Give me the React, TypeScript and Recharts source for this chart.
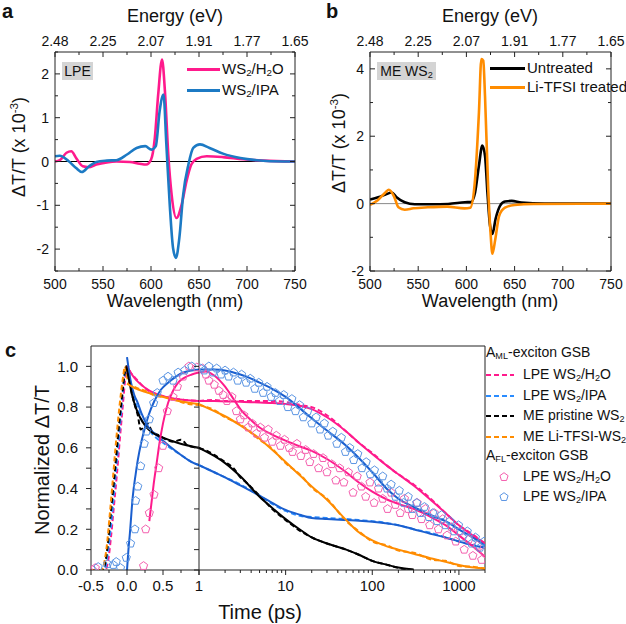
import React from 'react'
import { LineChart, Line, XAxis, YAxis, ReferenceLine } from 'recharts'

const FONT = '"Liberation Sans", Arial, sans-serif'

const PINK = '#ff1a8c'
const BLUE_A = '#1c7ac4'
const BLUE = '#1a5fcf'
const BLUE_DASH = '#2a8cff'
const ORANGE = '#ff8c00'
const BLACK = '#000000'
const PINK_PT = '#f45fae'
const BLUE_PT = '#5b95e3'

// ---- panel a: LPE WS2 spectra (wavelength nm, dT/T x 1e-3)
const LPE_H2O: [number, number][] = [
  [500, 0], [505, 0.03], [512, 0.2], [517, 0.235], [522, 0.08], [529, -0.11], [535, -0.13],
  [543, -0.07], [554, -0.02], [564, 0], [578, -0.01], [588, -0.05], [595, -0.07], [600, 0.04],
  [604, 0.54], [607.5, 1.53], [611.5, 2.33], [614.5, 1.61], [618, 0.16], [621.5, -0.76],
  [626.5, -1.29], [632, -0.98], [637, -0.45], [642, -0.07], [647.5, 0.06], [658, 0.12],
  [675, 0.1], [696, 0.05], [717, 0.02], [750, 0],
]
const LPE_IPA: [number, number][] = [
  [500, 0.12], [505, 0.13], [514, 0.01], [522, -0.15], [528, -0.24], [535, -0.12], [543, -0.01],
  [554, 0.02], [564, 0.03], [575, 0.16], [585, 0.31], [594, 0.35], [600.5, 0.27], [605, 0.35],
  [609, 1.15], [613, 1.53], [616, 0.39], [619.5, -0.98], [623, -1.98], [626, -2.2],
  [629.5, -1.75], [633.5, -0.76], [639, -0.07], [644, 0.31], [651, 0.39], [661, 0.31],
  [675, 0.18], [693, 0.08], [710, 0.03], [738, 0], [750, 0],
]

// ---- panel b: ME WS2 spectra
const ME_UNTREATED: [number, number][] = [
  [500, 0.12], [508.5, 0.19], [515.5, 0.26], [522.5, 0.33], [527.5, 0.19], [536, 0.04],
  [546.5, -0.02], [564, -0.02], [581, -0.01], [598.5, 0.04], [605, 0.05], [609, 0.33],
  [613, 1.13], [616.5, 1.72], [619.3, 1.42], [622, 0.24], [624.5, -0.65], [627, -0.9],
  [630.3, -0.45], [635, -0.06], [640, 0.06], [647, 0.08], [657, 0.03], [681, 0], [750, 0],
]
const ME_LITFSI: [number, number][] = [
  [500, -0.04], [508, 0.1], [516, 0.33], [519.5, 0.41], [525, 0.21], [529.5, -0.11],
  [536, -0.18], [545, -0.14], [560, -0.11], [580, -0.09], [598, -0.14], [604, -0.12],
  [609, 0.73], [613, 2.7], [615.5, 4.29], [617.5, 4.24], [619.3, 3.2], [622.5, 0.53],
  [625, -0.85], [627, -1.49], [630, -1.05], [634, -0.36], [640, -0.12], [650, -0.04],
  [670, -0.01], [750, 0],
]

const WAVE_TICKS = [500, 525, 550, 575, 600, 625, 650, 675, 700, 725, 750]
const WAVE_LABELS = ['500', '550', '600', '650', '700', '750']
const ENERGY_LABELS = ['2.48', '2.25', '2.07', '1.91', '1.77', '1.65']
const A_Y_TICKS = [-2.5, -2, -1.5, -1, -0.5, 0, 0.5, 1, 1.5, 2, 2.5]
const B_Y_TICKS = [-2, -1, 0, 1, 2, 3, 4]

// ---- panel c: kinetics (time ps, normalized dT/T)
const ML_H2O_DATA: [number, number][] = [
  [-0.5, 0], [-0.3, 0], [-0.26, 0.05], [-0.22, 0.17], [-0.18, 0.32], [-0.14, 0.47], [-0.1, 0.64],
  [-0.06, 0.8], [-0.03, 0.92], [-0.01, 0.98], [0.01, 1.0], [0.05, 0.97], [0.1, 0.95], [0.2, 0.91],
  [0.3, 0.88], [0.45, 0.86], [0.6, 0.845], [0.8, 0.835], [1, 0.83], [1.5, 0.835], [2, 0.83],
  [3, 0.83], [5, 0.83], [7, 0.83], [10, 0.825], [15, 0.81], [20, 0.8], [30, 0.76], [50, 0.68],
  [70, 0.625], [100, 0.575], [150, 0.51], [200, 0.47], [300, 0.42], [500, 0.34], [700, 0.28],
  [1000, 0.22], [1500, 0.17], [2000, 0.13],
]
const ML_H2O_FIT: [number, number][] = [
  [0, 1.0], [0.05, 0.97], [0.1, 0.945], [0.15, 0.925], [0.25, 0.895], [0.4, 0.865], [0.6, 0.845],
  [0.8, 0.835], [1, 0.83], [1.5, 0.83], [2, 0.828], [3, 0.826], [5, 0.823], [7, 0.82], [10, 0.815],
  [15, 0.805], [20, 0.79], [30, 0.75], [50, 0.68], [70, 0.625], [100, 0.57], [150, 0.51],
  [200, 0.47], [300, 0.415], [500, 0.335], [700, 0.28], [1000, 0.22], [1500, 0.165], [2000, 0.13],
]
const ML_IPA_DATA: [number, number][] = [
  [-0.5, 0], [-0.32, 0], [-0.28, 0.05], [-0.24, 0.16], [-0.2, 0.3], [-0.16, 0.46], [-0.12, 0.62],
  [-0.08, 0.78], [-0.05, 0.9], [-0.02, 0.98], [0, 1.0], [0.05, 0.92], [0.1, 0.84], [0.15, 0.79],
  [0.2, 0.74], [0.3, 0.69], [0.4, 0.65], [0.5, 0.625], [0.6, 0.6], [0.75, 0.565], [0.9, 0.53],
  [1, 0.515], [1.5, 0.48], [2, 0.455], [3, 0.42], [5, 0.365], [7, 0.325], [10, 0.29], [15, 0.265],
  [20, 0.26], [30, 0.255], [50, 0.25], [70, 0.245], [100, 0.24], [150, 0.23], [200, 0.22],
  [300, 0.2], [500, 0.18], [700, 0.16], [1000, 0.14], [1500, 0.12], [2000, 0.11],
]
const ML_IPA_FIT: [number, number][] = [
  [0, 1.045], [0.05, 0.93], [0.1, 0.86], [0.15, 0.82], [0.2, 0.77], [0.3, 0.7], [0.4, 0.665],
  [0.5, 0.635], [0.6, 0.605], [0.75, 0.565], [0.9, 0.53], [1, 0.515], [1.5, 0.48], [2, 0.455],
  [3, 0.415], [5, 0.365], [7, 0.33], [10, 0.295], [15, 0.27], [20, 0.255], [30, 0.25], [50, 0.245],
  [70, 0.242], [100, 0.237], [150, 0.228], [200, 0.22], [300, 0.2], [500, 0.175], [700, 0.16],
  [1000, 0.14], [1500, 0.12], [2000, 0.11],
]
const ME_PRISTINE_DATA: [number, number][] = [
  [-0.5, 0], [-0.33, 0], [-0.3, 0.04], [-0.26, 0.15], [-0.22, 0.3], [-0.18, 0.44], [-0.14, 0.6],
  [-0.1, 0.75], [-0.06, 0.88], [-0.03, 0.97], [-0.01, 1.0], [0.02, 0.95], [0.06, 0.88], [0.1, 0.82],
  [0.15, 0.76], [0.19, 0.69], [0.23, 0.7], [0.28, 0.72], [0.35, 0.68], [0.45, 0.66], [0.55, 0.64],
  [0.65, 0.63], [0.75, 0.64], [0.85, 0.61], [1, 0.6], [1.3, 0.58], [1.5, 0.565], [2, 0.53],
  [2.5, 0.5], [3, 0.455], [3.5, 0.43], [5, 0.365], [7, 0.3], [10, 0.245], [15, 0.19], [20, 0.16],
  [30, 0.13], [50, 0.1], [70, 0.075], [100, 0.045], [150, 0.025], [200, 0.01], [300, 0],
]
const ME_PRISTINE_FIT: [number, number][] = [
  [-0.01, 1.0], [0.03, 0.93], [0.07, 0.86], [0.12, 0.8], [0.18, 0.75], [0.25, 0.71], [0.35, 0.675],
  [0.5, 0.65], [0.7, 0.625], [1, 0.6], [1.5, 0.56], [2, 0.525], [3, 0.46], [5, 0.36], [7, 0.305],
  [10, 0.25], [15, 0.195], [20, 0.16], [30, 0.13], [50, 0.1], [70, 0.075], [100, 0.045],
  [150, 0.025], [200, 0.012], [300, 0.002],
]
const ME_LITFSI_DATA: [number, number][] = [
  [-0.5, 0], [-0.36, 0], [-0.32, 0.03], [-0.28, 0.12], [-0.24, 0.27], [-0.2, 0.43], [-0.16, 0.6],
  [-0.12, 0.75], [-0.08, 0.88], [-0.05, 0.96], [-0.03, 1.0], [-0.01, 0.97], [0.02, 0.92],
  [0.1, 0.9], [0.25, 0.88], [0.4, 0.855], [0.6, 0.845], [0.8, 0.82], [1, 0.81], [1.5, 0.785],
  [2, 0.75], [3, 0.715], [5, 0.64], [7, 0.595], [10, 0.525], [15, 0.465], [20, 0.405], [30, 0.35],
  [50, 0.24], [70, 0.19], [100, 0.14], [150, 0.12], [200, 0.095], [300, 0.085], [500, 0.05],
  [700, 0.045], [1000, 0.02], [1500, 0.015], [2000, 0.005],
]
const ME_LITFSI_FIT: [number, number][] = [
  [0, 0.915], [0.1, 0.895], [0.25, 0.875], [0.4, 0.86], [0.6, 0.84], [0.8, 0.825], [1, 0.815],
  [1.5, 0.78], [2, 0.755], [3, 0.71], [5, 0.645], [7, 0.59], [10, 0.53], [15, 0.46], [20, 0.41],
  [30, 0.345], [50, 0.245], [70, 0.185], [100, 0.145], [150, 0.115], [200, 0.1], [300, 0.08],
  [500, 0.055], [700, 0.04], [1000, 0.025], [1500, 0.012], [2000, 0.008],
]
const FL_H2O_FIT: [number, number][] = [
  [0.31, 0.24], [0.34, 0.33], [0.37, 0.42], [0.41, 0.52], [0.45, 0.62], [0.5, 0.72], [0.57, 0.82],
  [0.64, 0.88], [0.71, 0.92], [0.8, 0.945], [0.9, 0.96], [1, 0.97], [1.2, 0.975], [1.5, 0.955],
  [2, 0.9], [2.5, 0.84], [3, 0.79], [4, 0.735], [5, 0.7], [7, 0.665], [10, 0.635], [15, 0.605],
  [20, 0.585], [30, 0.545], [50, 0.48], [70, 0.43], [100, 0.385], [150, 0.345], [200, 0.325],
  [300, 0.3], [500, 0.255], [700, 0.22], [1000, 0.17], [1500, 0.11], [2000, 0.065],
]
const FL_IPA_FIT: [number, number][] = [
  [0, 0], [0.02, 0.1], [0.04, 0.18], [0.08, 0.36], [0.12, 0.47], [0.15, 0.54], [0.2, 0.63],
  [0.25, 0.7], [0.3, 0.76], [0.38, 0.83], [0.47, 0.885], [0.57, 0.92], [0.66, 0.945],
  [0.75, 0.965], [0.87, 0.978], [1, 0.985], [1.5, 0.985], [2, 0.98], [3, 0.96], [4, 0.94],
  [5, 0.92], [7, 0.89], [10, 0.85], [15, 0.79], [20, 0.745], [30, 0.685], [50, 0.61], [70, 0.55],
  [100, 0.48], [150, 0.395], [200, 0.35], [300, 0.31], [500, 0.265], [700, 0.24], [1000, 0.2],
  [1500, 0.155], [2000, 0.12],
]
const FL_H2O_PTS: [number, number][] = [
  [-0.48, 0], [-0.44, 0.01], [0.23, 0.02], [0.26, 0.2], [0.31, 0.28], [0.375, 0.37], [0.44, 0.5],
  [0.5, 0.61], [0.56, 0.78], [0.64, 0.85], [0.7, 0.9], [0.78, 0.95], [0.86, 1.0], [0.97, 0.995],
  [1.1, 0.99], [1.2, 0.96], [1.3, 0.93], [1.5, 0.91], [1.7, 0.88], [1.9, 0.86], [2.1, 0.83],
  [2.4, 0.85], [2.7, 0.78], [3.0, 0.74], [3.3, 0.76], [3.7, 0.7], [4.1, 0.72], [4.6, 0.67],
  [5.1, 0.7], [5.7, 0.65], [6.3, 0.69], [7, 0.63], [7.8, 0.66], [8.7, 0.61], [9.7, 0.64],
  [11, 0.6], [12, 0.58], [13.5, 0.62], [15, 0.56], [17, 0.59], [19, 0.53], [21, 0.57], [24, 0.5],
  [27, 0.55], [30, 0.48], [34, 0.52], [38, 0.44], [42, 0.5], [47, 0.43], [53, 0.48], [60, 0.38],
  [67, 0.46], [75, 0.41], [84, 0.36], [94, 0.43], [105, 0.33], [118, 0.4], [132, 0.35],
  [150, 0.3], [165, 0.38], [185, 0.32], [210, 0.28], [235, 0.35], [260, 0.3], [290, 0.27],
  [330, 0.33], [370, 0.25], [410, 0.3], [460, 0.22], [520, 0.28], [580, 0.2], [650, 0.25],
  [730, 0.17], [820, 0.21], [920, 0.14], [1030, 0.19], [1150, 0.1], [1300, 0.15], [1450, 0.07],
  [1630, 0.12], [1830, 0.05], [1950, 0.09],
]
const FL_IPA_PTS: [number, number][] = [
  [-0.4, 0.015], [-0.27, 0.03], [-0.19, 0.025], [-0.15, 0.04], [-0.09, 0.01], [-0.01, 0.06],
  [0.05, 0.13], [0.11, 0.2], [0.12, 0.34], [0.15, 0.41], [0.19, 0.51], [0.24, 0.62], [0.27, 0.68],
  [0.31, 0.74], [0.37, 0.82], [0.42, 0.87], [0.5, 0.93], [0.57, 0.95], [0.64, 0.93], [0.71, 0.97],
  [0.8, 0.98], [0.9, 1.0], [1.05, 0.99], [1.15, 0.98], [1.3, 1.0], [1.45, 0.97], [1.6, 0.99],
  [1.8, 0.96], [2.0, 0.98], [2.2, 0.95], [2.5, 0.97], [2.8, 0.93], [3.1, 0.96], [3.5, 0.92],
  [3.9, 0.94], [4.4, 0.89], [4.9, 0.92], [5.5, 0.87], [6.1, 0.9], [6.8, 0.85], [7.6, 0.87],
  [8.5, 0.83], [9.5, 0.86], [10.6, 0.8], [11.8, 0.84], [13, 0.78], [14.5, 0.81], [16, 0.75],
  [18, 0.78], [20, 0.72], [22.5, 0.75], [25, 0.69], [28, 0.72], [31, 0.66], [35, 0.68],
  [39, 0.62], [44, 0.65], [49, 0.58], [55, 0.6], [61, 0.54], [68, 0.57], [76, 0.5], [85, 0.53],
  [95, 0.47], [106, 0.49], [118, 0.43], [132, 0.46], [148, 0.4], [165, 0.42], [185, 0.36],
  [205, 0.39], [230, 0.33], [260, 0.36], [290, 0.3], [325, 0.33], [360, 0.28], [400, 0.31],
  [450, 0.26], [500, 0.28], [560, 0.24], [630, 0.27], [700, 0.22], [790, 0.24], [880, 0.19],
  [990, 0.22], [1100, 0.16], [1250, 0.19], [1400, 0.13], [1550, 0.16], [1750, 0.11], [1950, 0.14],
]

const LIN_TICKS = [-0.5, -0.25, 0, 0.25, 0.5, 0.75, 1]
const LOG_TICKS = [1, 2, 3, 4, 5, 6, 7, 8, 9, 10, 20, 30, 40, 50, 60, 70, 80, 90, 100, 200, 300, 400, 500, 600, 700, 800, 900, 1000, 2000]
const C_Y_TICKS = [0, 0.1, 0.2, 0.3, 0.4, 0.5, 0.6, 0.7, 0.8, 0.9, 1.0]

const pts = (arr: [number, number][]) => arr.map(([x, v]) => ({ x, v }))
const left = (arr: [number, number][]) => pts(arr.filter(([x]) => x <= 1))
const right = (arr: [number, number][]) => pts(arr.filter(([x]) => x >= 1))

type Side = 'bottom' | 'top' | 'left' | 'right'
function makeTick(side: Side, inward: boolean, major: (v: number) => boolean, label: (v: number) => string,
  majorLen = 5, minorLen = 3, gap = 4, fontSize = 14) {
  return (props: any) => {
    const { x, y, payload } = props
    const v = payload.value
    const len = major(v) ? majorLen : minorLen
    const d = { bottom: [0, 1], top: [0, -1], left: [-1, 0], right: [1, 0] }[side]
    const s = inward ? -1 : 1
    const text = label(v)
    let tx = x, ty = y, anchor: any = 'middle'
    if (side === 'bottom') ty = y + gap + fontSize * 0.72
    if (side === 'top') ty = y - gap
    if (side === 'left') { tx = x - gap; ty = y + fontSize * 0.36; anchor = 'end' }
    if (side === 'right') { tx = x + gap; ty = y + fontSize * 0.36; anchor = 'start' }
    return (
      <g>
        <line x1={x} y1={y} x2={x + d[0] * s * len} y2={y + d[1] * s * len} stroke="#222" strokeWidth={1} />
        {text ? <text x={tx} y={ty} textAnchor={anchor} fontSize={fontSize} fontFamily={FONT} fill="#111">{text}</text> : null}
      </g>
    )
  }
}

const Pentagon = ({ cx, cy, color }: { cx: number; cy: number; color: string }) => {
  const r = 4.3
  const p = [0, 1, 2, 3, 4].map((k) => {
    const a = (-90 + 72 * k) * Math.PI / 180
    return `${(cx + r * Math.cos(a)).toFixed(2)},${(cy + r * Math.sin(a)).toFixed(2)}`
  }).join(' ')
  return <polygon points={p} fill="none" stroke={color} strokeWidth={1} />
}
const pentDot = (color: string) => (p: any) => (
  <Pentagon key={`pt-${p.index}`} cx={p.cx} cy={p.cy} color={color} />
)

const txt = (style: React.CSSProperties) => ({ position: 'absolute' as const, fontFamily: FONT, color: '#111', whiteSpace: 'nowrap' as const, ...style })
const Sub = ({ children }: { children: React.ReactNode }) => <sub style={{ fontSize: '0.65em', verticalAlign: '-0.25em' }}>{children}</sub>

const waveMajor = (v: number) => v % 50 === 0
const bottomWave = makeTick('bottom', true, waveMajor, (v) => (waveMajor(v) ? WAVE_LABELS[(v - 500) / 50] : ''), 5, 3, 8, 14)
const topEnergy = makeTick('top', true, waveMajor, (v) => (waveMajor(v) ? ENERGY_LABELS[(v - 500) / 50] : ''), 5, 3, 6, 14)
const noLabelRight = (major: (v: number) => boolean) => makeTick('right', true, major, () => '', 5, 3)

function SpectraPanel({ series, yTicks, yDomain, yMajor, zeroColor, plotLeft, plotRight }: any) {
  const W = 313
  return (
    <LineChart width={W} height={300} margin={{ top: 32, right: W - plotRight - 10, bottom: 9, left: plotLeft - 30 }}>
      <XAxis dataKey="x" type="number" domain={[500, 750]} allowDataOverflow ticks={WAVE_TICKS} interval={0}
        tickSize={0} tickMargin={0} tickLine={false} axisLine={{ stroke: '#222' }} height={20} tick={bottomWave} />
      <XAxis xAxisId="top" orientation="top" dataKey="x" type="number" domain={[500, 750]} allowDataOverflow ticks={WAVE_TICKS}
        interval={0} tickSize={0} tickMargin={0} tickLine={false} axisLine={{ stroke: '#222' }} height={20} tick={topEnergy} />
      <YAxis type="number" domain={yDomain} allowDataOverflow ticks={yTicks} interval={0} width={30}
        tickSize={0} tickMargin={0} tickLine={false} axisLine={{ stroke: '#222' }}
        tick={makeTick('left', true, yMajor, (v) => (yMajor(v) ? String(v) : ''), 5, 3, 6, 14)} />
      <YAxis yAxisId="r" orientation="right" type="number" domain={yDomain} allowDataOverflow ticks={yTicks} interval={0} width={10}
        tickSize={0} tickMargin={0} tickLine={false} axisLine={{ stroke: '#222' }} tick={noLabelRight(yMajor)} />
      <ReferenceLine y={0} stroke={zeroColor} strokeWidth={1} />
      {series.map((s: any) => (
        <Line key={s.name} data={pts(s.data)} dataKey="v" name={s.name} type="monotone" stroke={s.color}
          strokeWidth={2.6} dot={false} activeDot={false} isAnimationActive={false} />
      ))}
    </LineChart>
  )
}

const cYMajor = () => true
const cYLabel = (v: number) => (Math.round(v * 10) % 2 === 0 ? v.toFixed(1) : '')
const linMajor = (v: number) => Math.abs(v * 2 - Math.round(v * 2)) < 1e-9
const logMajor = (v: number) => [1, 10, 100, 1000].includes(v)

const C_LINES = [
  { name: 'ML H2O', data: ML_H2O_DATA, fit: ML_H2O_FIT, color: PINK, dash: PINK },
  { name: 'ML IPA', data: ML_IPA_DATA, fit: ML_IPA_FIT, color: BLUE, dash: BLUE_DASH },
  { name: 'ME pristine', data: ME_PRISTINE_DATA, fit: ME_PRISTINE_FIT, color: BLACK, dash: BLACK },
  { name: 'ME Li-TFSI', data: ME_LITFSI_DATA, fit: ME_LITFSI_FIT, color: ORANGE, dash: ORANGE },
]

function kineticsSeries(cut: (a: [number, number][]) => { x: number; v: number }[]) {
  const out: React.ReactNode[] = []
  out.push(<Line key="pts-h2o" data={cut(FL_H2O_PTS)} dataKey="v" stroke="none" dot={pentDot(PINK_PT)} activeDot={false} isAnimationActive={false} />)
  out.push(<Line key="pts-ipa" data={cut(FL_IPA_PTS)} dataKey="v" stroke="none" dot={pentDot(BLUE_PT)} activeDot={false} isAnimationActive={false} />)
  C_LINES.forEach((s) => out.push(
    <Line key={`d-${s.name}`} data={cut(s.data)} dataKey="v" type="monotone" stroke={s.dash} strokeWidth={2}
      strokeDasharray="5 3" dot={false} activeDot={false} isAnimationActive={false} />
  ))
  C_LINES.forEach((s) => out.push(
    <Line key={`f-${s.name}`} data={cut(s.fit)} dataKey="v" type="monotone" stroke={s.color} strokeWidth={2}
      dot={false} activeDot={false} isAnimationActive={false} />
  ))
  out.push(<Line key="f-fl-h2o" data={cut(FL_H2O_FIT)} dataKey="v" type="monotone" stroke={PINK} strokeWidth={2} dot={false} activeDot={false} isAnimationActive={false} />)
  out.push(<Line key="f-fl-ipa" data={cut(FL_IPA_FIT)} dataKey="v" type="monotone" stroke={BLUE} strokeWidth={2} dot={false} activeDot={false} isAnimationActive={false} />)
  return out
}

export default function App() {
  return (
    <div style={{ position: 'absolute', left: 0, top: 0, width: 626, height: 624, background: '#fff', overflow: 'hidden' }}>
      {/* panel a */}
      <div style={{ position: 'absolute', left: 0, top: 0 }}>
        <SpectraPanel plotLeft={55} plotRight={295} yDomain={[-2.5, 2.5]} yTicks={A_Y_TICKS}
          yMajor={(v: number) => Number.isInteger(v)} zeroColor="#000"
          series={[{ name: 'WS2/H2O', data: LPE_H2O, color: PINK }, { name: 'WS2/IPA', data: LPE_IPA, color: BLUE_A }]} />
      </div>
      {/* panel b */}
      <div style={{ position: 'absolute', left: 313, top: 0 }}>
        <SpectraPanel plotLeft={57} plotRight={298} yDomain={[-2, 4.5]} yTicks={B_Y_TICKS}
          yMajor={(v: number) => v % 2 === 0} zeroColor="#8a8a8a"
          series={[{ name: 'Untreated', data: ME_UNTREATED, color: BLACK }, { name: 'Li-TFSI treated', data: ME_LITFSI, color: ORANGE }]} />
      </div>
      {/* panel c, linear part */}
      <div style={{ position: 'absolute', left: 0, top: 300 }}>
        <LineChart width={210} height={324} margin={{ top: 46, right: 1, bottom: 29, left: 61 }}>
          <XAxis dataKey="x" type="number" domain={[-0.5, 1]} allowDataOverflow ticks={LIN_TICKS} interval={0}
            tickSize={0} tickMargin={0} tickLine={false} axisLine={{ stroke: '#222' }} height={25}
            tick={makeTick('bottom', false, linMajor, (v) => (linMajor(v) && v !== 1 ? v.toFixed(1) : ''), 5, 3, 10, 15)} />
          <YAxis type="number" domain={[0, 1.1]} allowDataOverflow ticks={C_Y_TICKS} interval={0} width={30}
            tickSize={0} tickMargin={0} tickLine={false} axisLine={{ stroke: '#222' }}
            tick={makeTick('left', false, cYMajor, cYLabel, 5, 5, 13, 15)} />
          <YAxis yAxisId="r" orientation="right" type="number" domain={[0, 1.1]} allowDataOverflow ticks={C_Y_TICKS} interval={0}
            width={10} tickSize={0} tickMargin={0} tickLine={false} axisLine={{ stroke: '#222' }} tick={noLabelRight(cYMajor)} />
          <ReferenceLine y={1.1} stroke="#222" strokeWidth={1} />
          {kineticsSeries(left)}
        </LineChart>
      </div>
      {/* panel c, log part */}
      <div style={{ position: 'absolute', left: 189, top: 300 }}>
        <LineChart width={300} height={324} margin={{ top: 46, right: 4, bottom: 29, left: 10 }}>
          <XAxis dataKey="x" type="number" scale="log" domain={[1, 2000]} allowDataOverflow ticks={LOG_TICKS} interval={0}
            tickSize={0} tickMargin={0} tickLine={false} axisLine={{ stroke: '#222' }} height={25}
            tick={makeTick('bottom', false, logMajor, (v) => (logMajor(v) ? String(v) : ''), 5, 3, 10, 15)} />
          <YAxis type="number" domain={[0, 1.1]} allowDataOverflow hide />
          <ReferenceLine y={1.1} stroke="#222" strokeWidth={1} />
          <ReferenceLine x={2000} stroke="#222" strokeWidth={1} />
          {kineticsSeries(right)}
        </LineChart>
      </div>

      {/* text: panel a */}
      <div style={txt({ left: 2, top: 1, fontSize: 20, fontWeight: 'bold', lineHeight: '20px' })}>a</div>
      <div style={txt({ left: 175, top: 6, fontSize: 18, transform: 'translateX(-50%)' })}>Energy (eV)</div>
      <div style={txt({ left: 175, top: 291, fontSize: 18, transform: 'translateX(-50%)' })}>Wavelength (nm)</div>
      <div style={txt({ left: 18, top: 147, fontSize: 18, transform: 'translate(-50%, -50%) rotate(-90deg)' })}>ΔT/T (x 10<sup style={{ fontSize: '0.65em' }}>-3</sup>)</div>
      <div style={txt({ left: 62, top: 62, width: 31, height: 18, background: '#d4d4d4', fontSize: 14, lineHeight: '18px', textAlign: 'center' })}>LPE</div>
      <div style={{ position: 'absolute', left: 187, top: 68, width: 33, height: 3, background: PINK }} />
      <div style={{ position: 'absolute', left: 187, top: 89, width: 33, height: 3, background: BLUE_A }} />
      <div style={txt({ left: 222, top: 60, fontSize: 15 })}>WS<Sub>2</Sub>/H<Sub>2</Sub>O</div>
      <div style={txt({ left: 222, top: 81, fontSize: 15 })}>WS<Sub>2</Sub>/IPA</div>

      {/* text: panel b */}
      <div style={txt({ left: 326, top: 1, fontSize: 20, fontWeight: 'bold', lineHeight: '20px' })}>b</div>
      <div style={txt({ left: 490, top: 6, fontSize: 18, transform: 'translateX(-50%)' })}>Energy (eV)</div>
      <div style={txt({ left: 490, top: 291, fontSize: 18, transform: 'translateX(-50%)' })}>Wavelength (nm)</div>
      <div style={txt({ left: 338, top: 143, fontSize: 18, transform: 'translate(-50%, -50%) rotate(-90deg)' })}>ΔT/T (x 10<sup style={{ fontSize: '0.65em' }}>-3</sup>)</div>
      <div style={txt({ left: 377, top: 62, width: 59, height: 18, background: '#d4d4d4', fontSize: 14, lineHeight: '18px', textAlign: 'center' })}>ME WS<Sub>2</Sub></div>
      <div style={{ position: 'absolute', left: 490, top: 67, width: 35, height: 3, background: BLACK }} />
      <div style={{ position: 'absolute', left: 490, top: 86, width: 35, height: 3, background: ORANGE }} />
      <div style={txt({ left: 527, top: 59, fontSize: 15 })}>Untreated</div>
      <div style={txt({ left: 527, top: 78, fontSize: 15 })}>Li-TFSI treated</div>

      {/* text: panel c */}
      <div style={txt({ left: 5, top: 340, fontSize: 20, fontWeight: 'bold', lineHeight: '20px' })}>c</div>
      <div style={txt({ left: 42, top: 460, fontSize: 20, transform: 'translate(-50%, -50%) rotate(-90deg)' })}>Normalized ΔT/T</div>
      <div style={txt({ left: 260, top: 601, fontSize: 20, transform: 'translateX(-50%)' })}>Time (ps)</div>
      <div style={txt({ left: 486, top: 344, fontSize: 14 })}>A<Sub>ML</Sub>-exciton GSB</div>
      {[
        { c: PINK, y: 375, t: <>LPE WS<Sub>2</Sub>/H<Sub>2</Sub>O</> },
        { c: BLUE_DASH, y: 396, t: <>LPE WS<Sub>2</Sub>/IPA</> },
        { c: BLACK, y: 416, t: <>ME pristine WS<Sub>2</Sub></> },
        { c: ORANGE, y: 437, t: <>ME Li-TFSI-WS<Sub>2</Sub></> },
      ].map((e, i) => (
        <React.Fragment key={i}>
          <svg style={{ position: 'absolute', left: 486, top: e.y - 2 }} width={28} height={4}>
            <line x1={0} y1={2} x2={28} y2={2} stroke={e.c} strokeWidth={2} strokeDasharray="5 3" />
          </svg>
          <div style={txt({ left: 523, top: e.y - 9, fontSize: 14 })}>{e.t}</div>
        </React.Fragment>
      ))}
      <div style={txt({ left: 486, top: 447, fontSize: 14 })}>A<Sub>FL</Sub>-exciton GSB</div>
      {[
        { c: PINK_PT, y: 477, t: <>LPE WS<Sub>2</Sub>/H<Sub>2</Sub>O</> },
        { c: BLUE_PT, y: 497, t: <>LPE WS<Sub>2</Sub>/IPA</> },
      ].map((e, i) => (
        <React.Fragment key={i}>
          <svg style={{ position: 'absolute', left: 498, top: e.y - 6 }} width={12} height={12}>
            <Pentagon cx={6} cy={6} color={e.c} />
          </svg>
          <div style={txt({ left: 523, top: e.y - 9, fontSize: 14 })}>{e.t}</div>
        </React.Fragment>
      ))}
    </div>
  )
}
